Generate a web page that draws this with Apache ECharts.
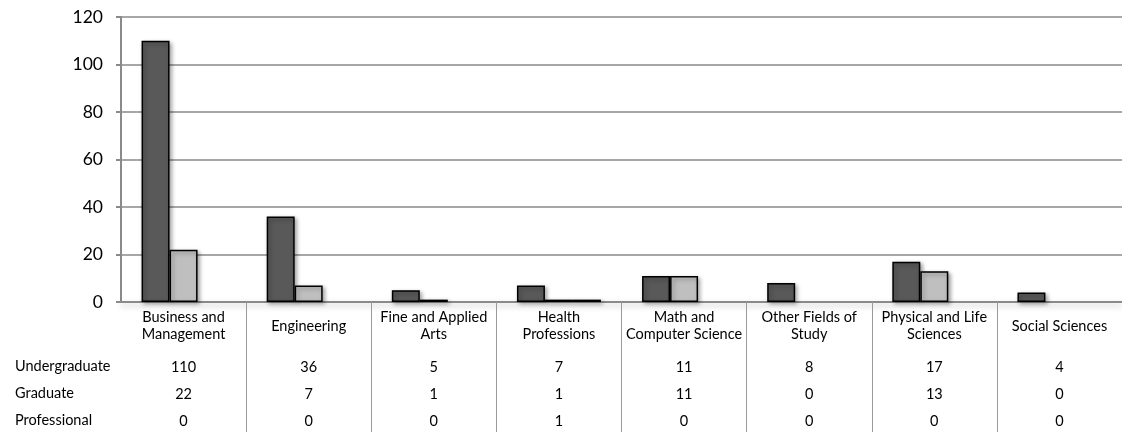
<!DOCTYPE html>
<html>
<head>
<meta charset="utf-8">
<script src="https://cdn.jsdelivr.net/npm/echarts@6/dist/echarts.min.js"></script>
<style>
  html, body { margin: 0; padding: 0; background: #fff; }
  #chart { width: 1122px; height: 432px; }
</style>
</head>
<body>
<div id="chart"></div>
<script>
// Degrees by field of study
const categories = [
  'Business and\nManagement',
  'Engineering',
  'Fine and Applied\nArts',
  'Health\nProfessions',
  'Math and\nComputer Science',
  'Other Fields of\nStudy',
  'Physical and Life\nSciences',
  'Social Sciences'
];
const seriesNames = ['Undergraduate', 'Graduate', 'Professional'];
const undergraduate = [110, 36, 5, 7, 11, 8, 17, 4];
const graduate = [22, 7, 1, 1, 11, 0, 13, 0];
const professional = [0, 0, 0, 1, 0, 0, 0, 0];
const yTicks = { min: 0, max: 120, interval: 20 };

const FONT = 'Lato, "Open Sans", sans-serif';
const TABLE_FONT_SIZE = 14.5;
const tableRows = [undergraduate, graduate, professional];
const rowOffsets = [65, 92, 119];
const fills = ['#595959', '#bfbfbf', '#f2f2f2'];

const chart = echarts.init(document.getElementById('chart'), null, { renderer: 'canvas' });

// one extra bottom axis per table row, labels show that row's values
const rowAxes = tableRows.map((row, r) => ({
  type: 'category',
  gridIndex: 0,
  position: 'bottom',
  offset: rowOffsets[r],
  data: categories,
  axisLine: { show: false },
  axisTick: { show: false },
  splitLine: { show: false },
  axisLabel: {
    interval: 0,
    margin: 0,
    verticalAlign: 'middle',
    fontFamily: FONT,
    fontSize: TABLE_FONT_SIZE,
    color: '#000',
    formatter: (v, i) => String(row[i])
  }
}));

const barStyle = (s) => ({
  color: fills[s],
  borderColor: '#000',
  borderWidth: 1.5,
  shadowColor: 'rgba(0,0,0,0.35)',
  shadowBlur: 4,
  shadowOffsetX: 2,
  shadowOffsetY: 2
});

const option = {
  animation: false,
  backgroundColor: '#ffffff',
  grid: { left: 121, right: 0, top: 17, bottom: 130, containLabel: false },
  xAxis: [{
    type: 'category',
    data: categories,
    position: 'bottom',
    axisLine: {
      show: true,
      lineStyle: { color: '#8a8a8a', width: 2, shadowColor: 'rgba(0,0,0,0.25)', shadowBlur: 6, shadowOffsetY: 3 }
    },
    axisTick: {
      show: true,
      length: 130,
      interval: (i) => i > 0,
      lineStyle: { color: '#9a9a9a', width: 1 }
    },
    axisLabel: {
      interval: 0,
      margin: 24,
      verticalAlign: 'middle',
      lineHeight: 17,
      fontFamily: FONT,
      fontSize: TABLE_FONT_SIZE,
      color: '#000'
    }
  }].concat(rowAxes),
  yAxis: {
    type: 'value',
    min: yTicks.min,
    max: yTicks.max,
    interval: yTicks.interval,
    axisLine: { show: true, lineStyle: { color: '#8a8a8a', width: 2 } },
    axisTick: { show: true, length: 5, lineStyle: { color: '#8a8a8a', width: 2 } },
    splitLine: { show: true, lineStyle: { color: '#8a8a8a', width: 1.5 } },
    axisLabel: { fontFamily: FONT, fontSize: 17.5, color: '#000', margin: 18 }
  },
  series: [undergraduate, graduate, professional].map((vals, s) => ({
    name: seriesNames[s],
    type: 'bar',
    xAxisIndex: 0,
    // zero-height bars are left without an outline
    data: vals.map(v => v === 0
      ? { value: v, itemStyle: { borderWidth: 0, shadowBlur: 0, shadowOffsetX: 0, shadowOffsetY: 0, opacity: 0 } }
      : v),
    barWidth: 28,
    barGap: '0%',
    itemStyle: barStyle(s)
  })),
  graphic: seriesNames.map((name, r) => ({
    type: 'text',
    left: 15,
    top: 302 + rowOffsets[r] - 8,
    style: { text: name, font: TABLE_FONT_SIZE + 'px ' + FONT, fill: '#000' }
  }))
};

chart.setOption(option);
</script>
</body>
</html>
